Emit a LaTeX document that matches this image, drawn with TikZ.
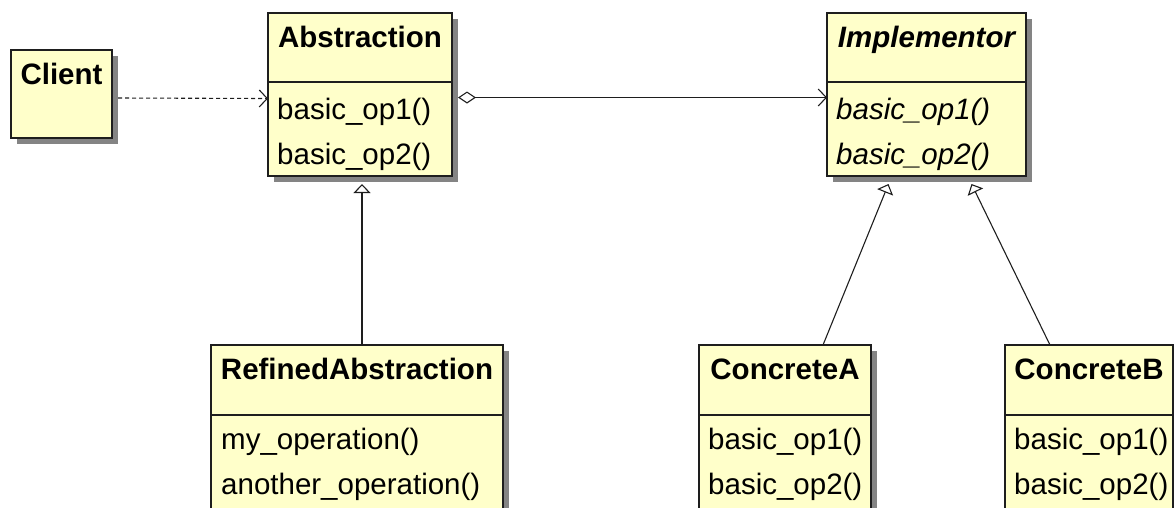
\documentclass[tikz,border=0pt]{standalone}
\usepackage{fontspec}
\setmainfont{Liberation Sans}
\usetikzlibrary{arrows.meta}
\definecolor{classfill}{RGB}{255,255,202}
\definecolor{shadowgray}{RGB}{132,132,132}
\definecolor{ink}{RGB}{30,30,30}

% class box: name, left, top, width, height, compartment separator offset (0 = none)
\newcommand\umlbox[6]{%
  \fill[shadowgray] (#2+6,#3+6) rectangle ++(#4,#5);
  \node[classbox, minimum width=#4pt, minimum height=#5pt] (#1) at (#2,#3) {};
  \ifnum#6>0 \draw[ink, line width=1.3pt] (#2,#3+#6) -- ++(#4,0);\fi
}

\begin{document}
\begin{tikzpicture}[x=1pt, y=-1pt,
  classbox/.style={draw=ink, line width=1.4pt, fill=classfill, inner sep=0pt,
    outer sep=0pt, anchor=north west},
  classname/.style={anchor=base, inner sep=0pt, font=\fontsize{29.5}{34}\selectfont\bfseries},
  member/.style={anchor=base west, inner sep=0pt, font=\fontsize{29.5}{34}\selectfont},
  conn/.style={draw=ink, line width=1.1pt},
  dep/.style={conn, dash pattern=on 4pt off 3pt, -{Straight Barb[length=8pt, width=17pt, line width=1.1pt]}},
  assoc/.style={conn, {Diamond[open, length=18pt, width=12pt, line width=1.1pt]}-{Straight Barb[length=8pt, width=17pt, line width=1.1pt]}},
  inherit/.style={conn, -{Triangle[open, length=9pt, width=17pt, line width=1.1pt]}}
]
\useasboundingbox (0,0) rectangle (1174,507);
\clip (0,0) rectangle (1174,507);

% boxes
\umlbox{Client}{11}{50}{101}{88}{0}
\umlbox{Abstraction}{268}{13}{184}{163}{69}
\umlbox{Implementor}{827}{13}{199}{163}{69}
\umlbox{Refined}{211}{345}{292}{200}{70}
\umlbox{ConcreteA}{699}{345}{172}{200}{70}
\umlbox{ConcreteB}{1005}{345}{168}{200}{70}

% class names
\node[classname] (clientT) at ([yshift=-34pt]Client.north) {Client};
\node[classname] (absT) at ([yshift=-34pt]Abstraction.north) {Abstraction};
\node[classname, font=\fontsize{29.5}{34}\selectfont\bfseries\itshape] (implT) at ([yshift=-34pt]Implementor.north) {Implementor};
\node[classname] (refT) at ([yshift=-34pt]Refined.north) {RefinedAbstraction};
\node[classname] (caT) at ([yshift=-34pt]ConcreteA.north) {ConcreteA};
\node[classname] (cbT) at ([yshift=-34pt]ConcreteB.north) {ConcreteB};

% operations
\node[member] (absOp1) at ([xshift=9pt, yshift=-106pt]Abstraction.north west) {basic\_op1()};
\node[member] (absOp2) at ([xshift=9pt, yshift=-151pt]Abstraction.north west) {basic\_op2()};
\node[member, font=\fontsize{29.5}{34}\selectfont\itshape] (implOp1) at ([xshift=9pt, yshift=-106pt]Implementor.north west) {basic\_op1()};
\node[member, font=\fontsize{29.5}{34}\selectfont\itshape] (implOp2) at ([xshift=9pt, yshift=-151pt]Implementor.north west) {basic\_op2()};
\node[member] (refOp1) at ([xshift=10pt, yshift=-104pt]Refined.north west) {my\_operation()};
\node[member] (refOp2) at ([xshift=10pt, yshift=-149pt]Refined.north west) {another\_operation()};
\node[member] (caOp1) at ([xshift=9pt, yshift=-104pt]ConcreteA.north west) {basic\_op1()};
\node[member] (caOp2) at ([xshift=9pt, yshift=-149pt]ConcreteA.north west) {basic\_op2()};
\node[member] (cbOp1) at ([xshift=9pt, yshift=-104pt]ConcreteB.north west) {basic\_op1()};
\node[member] (cbOp2) at ([xshift=9pt, yshift=-149pt]ConcreteB.north west) {basic\_op2()};

% connectors
\draw[dep] ([xshift=6pt, yshift=-4pt]Client.east) -- ([yshift=-4pt]Abstraction.west);
\draw[assoc] ([xshift=6pt, yshift=-3pt]Abstraction.east) -- ([yshift=-3pt]Implementor.west);
\draw[inherit] ([xshift=5pt]Refined.north) -- ([xshift=2pt, yshift=-8pt]Abstraction.south);
\draw[inherit] ([xshift=38pt]ConcreteA.north) -- ([xshift=-38pt, yshift=-8pt]Implementor.south);
\draw[inherit] ([xshift=-39pt]ConcreteB.north) -- ([xshift=45pt, yshift=-8pt]Implementor.south);
\end{tikzpicture}
\end{document}
